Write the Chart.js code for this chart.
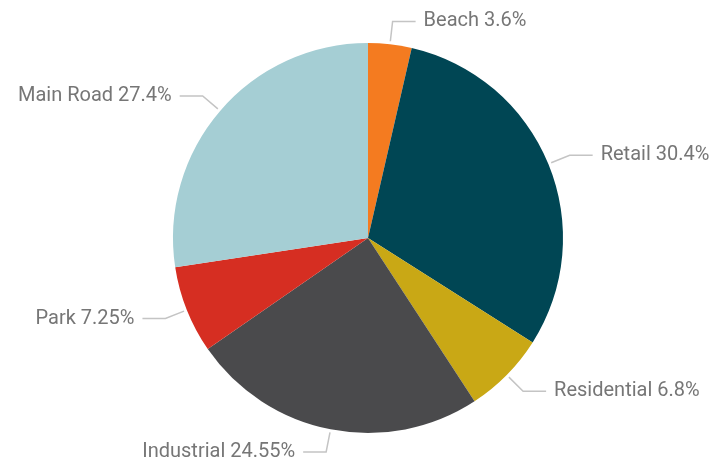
<!DOCTYPE html>
<html>
<head>
<meta charset="utf-8">
<script src="https://cdn.jsdelivr.net/npm/chart.js@4"></script>
<style>
    html, body { margin: 0; padding: 0; background: #fff; }
    #wrap { width: 720px; height: 463px; }
</style>
</head>
<body>
<div id="wrap"><canvas id="landUseChart"></canvas></div>
<script>
const categories = ["Beach", "Retail", "Residential", "Industrial", "Park", "Main Road"];
const shares = [3.6, 30.4, 6.8, 24.55, 7.25, 27.4];
const sliceColors = ["#f47b20", "#004654", "#c9a815", "#4a4a4c", "#d62e22", "#a5ced4"];

const labelColor = "#767676";
const leaderColor = "#c4c4c4";

// leader lines + labels outside the pie
const outsideLabels = {
    id: "outsideLabels",
    afterDatasetsDraw(chart) {
        const ctx = chart.ctx;
        const meta = chart.getDatasetMeta(0);
        ctx.save();
        ctx.font = "20px Roboto, 'DejaVu Sans', sans-serif";
        ctx.textBaseline = "middle";
        meta.data.forEach((arc, i) => {
            const { x, y, startAngle, endAngle, outerRadius } = arc.getProps(
                ["x", "y", "startAngle", "endAngle", "outerRadius"], true);
            const mid = (startAngle + endAngle) / 2;
            const cos = Math.cos(mid);
            const sin = Math.sin(mid);
            const x0 = x + cos * (outerRadius + 3);
            const y0 = y + sin * (outerRadius + 3);
            const x1 = x + cos * (outerRadius + 23);
            const y1 = y + sin * (outerRadius + 23);
            const dir = cos >= 0 ? 1 : -1;
            const x2 = x1 + dir * 23;

            ctx.strokeStyle = leaderColor;
            ctx.lineWidth = 1.5;
            ctx.beginPath();
            ctx.moveTo(x0, y0);
            ctx.lineTo(x1, y1);
            ctx.lineTo(x2, y1);
            ctx.stroke();

            ctx.fillStyle = labelColor;
            ctx.textAlign = dir > 0 ? "left" : "right";
            ctx.fillText(`${categories[i]} ${shares[i]}%`, x2 + dir * 8, y1);
        });
        ctx.restore();
    }
};

new Chart(document.getElementById("landUseChart"), {
    type: "pie",
    data: {
        labels: categories,
        datasets: [{
            data: shares,
            backgroundColor: sliceColors,
            borderWidth: 0
        }]
    },
    options: {
        responsive: true,
        maintainAspectRatio: false,
        animation: false,
        layout: { padding: { top: 43, bottom: 30, left: 16, right: 0 } },
        plugins: {
            legend: { display: false },
            tooltip: { enabled: false }
        }
    },
    plugins: [outsideLabels]
});
</script>
</body>
</html>
